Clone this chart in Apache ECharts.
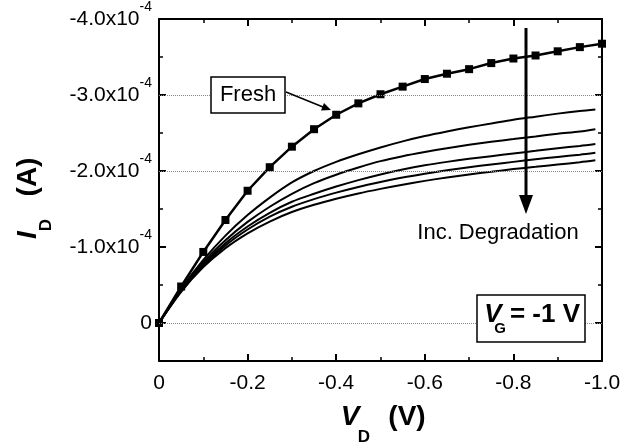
<!DOCTYPE html>
<html>
<head>
<meta charset="utf-8">
<script src="https://cdn.jsdelivr.net/npm/echarts@6/dist/echarts.min.js"></script>
<style>
html, body { margin: 0; background: #fff; }
#main { width: 639px; height: 445px; }
</style>
</head>
<body>
<div id="main"></div>
<script>
// drain voltage (V) and drain current in units of 1e-4 A
var vd = [0, -0.05, -0.1, -0.15, -0.2, -0.25, -0.3, -0.35, -0.4, -0.45, -0.5,
          -0.55, -0.6, -0.65, -0.7, -0.75, -0.8, -0.85, -0.9, -0.95, -1.0];
var vdDeg = [0, -0.05, -0.1, -0.15, -0.2, -0.25, -0.3, -0.35, -0.4, -0.45, -0.5,
             -0.55, -0.6, -0.65, -0.7, -0.75, -0.8, -0.85, -0.9, -0.95, -0.985];
var fresh = [0, -0.48, -0.935, -1.355, -1.74, -2.05, -2.32, -2.55, -2.74, -2.89, -3.01,
             -3.11, -3.21, -3.28, -3.34, -3.42, -3.48, -3.52, -3.575, -3.63, -3.675];
var deg1 = [0, -0.45, -0.83, -1.15, -1.42, -1.65, -1.85, -2.00, -2.12, -2.22, -2.31,
            -2.39, -2.46, -2.52, -2.575, -2.625, -2.675, -2.715, -2.755, -2.79, -2.81];
var deg2 = [0, -0.44, -0.80, -1.09, -1.33, -1.53, -1.70, -1.84, -1.95, -2.045, -2.13,
            -2.195, -2.25, -2.30, -2.345, -2.385, -2.42, -2.455, -2.49, -2.52, -2.55];
var deg3 = [0, -0.43, -0.775, -1.05, -1.27, -1.45, -1.595, -1.70, -1.795, -1.88, -1.955,
            -2.02, -2.075, -2.12, -2.16, -2.195, -2.23, -2.265, -2.30, -2.33, -2.355];
var deg4 = [0, -0.42, -0.755, -1.02, -1.23, -1.40, -1.53, -1.63, -1.715, -1.79, -1.855,
            -1.915, -1.965, -2.01, -2.05, -2.085, -2.12, -2.155, -2.185, -2.215, -2.24];
var deg5 = [0, -0.41, -0.735, -0.985, -1.18, -1.335, -1.46, -1.555, -1.635, -1.705, -1.765,
            -1.82, -1.87, -1.915, -1.955, -1.99, -2.025, -2.055, -2.085, -2.115, -2.14];
var gridLines = [-3, -2, 0];
var yExponent = '-4';

var FONT = 'Liberation Sans, Arial, sans-serif';

function pairs(xs, ys) {
    return xs.map(function (x, i) { return [x, ys[i]]; });
}

var degraded = [deg1, deg2, deg3, deg4, deg5];

var axisLine = { show: true, onZero: false, lineStyle: { color: '#000', width: 2 } };
var axisTick = { show: true, inside: true, length: 7, lineStyle: { color: '#000', width: 2 } };
var minorTick = { show: true, splitNumber: 2, length: 4, lineStyle: { color: '#000', width: 1.5 } };

function xAx(pos, labels) {
    return {
        type: 'value', position: pos, min: -1, max: 0, interval: 0.2, inverse: true,
        axisLine: axisLine, axisTick: axisTick, minorTick: minorTick,
        splitLine: { show: false },
        axisLabel: {
            show: labels, color: '#000', fontSize: 21, fontFamily: FONT, margin: 12,
            formatter: function (v) { return v === 0 ? '0' : v.toFixed(1); }
        }
    };
}

function yAx(pos, labels) {
    return {
        type: 'value', position: pos, min: -4, max: 0.5, interval: 1, inverse: true,
        axisLine: axisLine, axisTick: axisTick, minorTick: minorTick,
        splitLine: { show: false },
        axisLabel: {
            show: labels, color: '#000', fontFamily: FONT, margin: 7,
            formatter: function (v) {
                if (v === 0) return '{m|0}';
                if (Math.round(v) !== v) return '';
                return '{m|' + v.toFixed(1) + 'x10}{s|' + yExponent + '}';
            },
            rich: {
                m: { fontSize: 21, lineHeight: 22, verticalAlign: 'bottom', fontFamily: FONT, color: '#000' },
                s: { fontSize: 14, lineHeight: 14, padding: [0, 0, 16, 0], verticalAlign: 'bottom', fontFamily: FONT, color: '#000' }
            }
        }
    };
}

var series = [{
    type: 'line', data: [], symbol: 'none',
    markLine: {
        silent: true, symbol: 'none', label: { show: false },
        lineStyle: { type: 'dotted', color: '#888', width: 1 },
        data: gridLines.map(function (g) { return { yAxis: g }; })
    }
}];
degraded.forEach(function (d) {
    series.push({
        type: 'line', data: pairs(vdDeg, d), symbol: 'none', smooth: 0.3,
        lineStyle: { color: '#000', width: 2 }
    });
});
series.push({
    name: 'Fresh', type: 'line', data: pairs(vd, fresh),
    symbol: 'rect', symbolSize: 8,
    itemStyle: { color: '#000' },
    lineStyle: { color: '#000', width: 2.5 }
});

function txt(x, y, s, size, extra) {
    var st = { text: s, fill: '#000', font: (extra || '') + ' ' + size + 'px ' + FONT, align: 'center', verticalAlign: 'middle' };
    return { type: 'text', x: x, y: y, z: 100, style: st };
}

var graphics = [
    // Fresh label and arrow
    { type: 'rect', z: 100, shape: { x: 211, y: 77, width: 74, height: 36 }, style: { fill: '#fff', stroke: '#000', lineWidth: 1.5 } },
    txt(248, 95, 'Fresh', 22, ''),
    { type: 'line', z: 100, shape: { x1: 286, y1: 92, x2: 323, y2: 107 }, style: { stroke: '#000', lineWidth: 1.5 } },
    { type: 'polygon', z: 100, shape: { points: [[321, 110.5], [324, 103], [331, 110]] }, style: { fill: '#000' } },
    // degradation arrow
    { type: 'line', z: 100, shape: { x1: 526, y1: 28, x2: 526, y2: 198 }, style: { stroke: '#000', lineWidth: 3 } },
    { type: 'polygon', z: 100, shape: { points: [[519, 195], [533, 195], [526, 214]] }, style: { fill: '#000' } },
    txt(498, 233, 'Inc. Degradation', 22, ''),
    // V_G box
    { type: 'rect', z: 100, shape: { x: 477, y: 295, width: 108, height: 47 }, style: { fill: '#fff', stroke: '#000', lineWidth: 1.5 } },
    txt(493, 315, 'V', 26, 'italic bold'),
    txt(500, 329, 'G', 15, 'bold'),
    txt(545, 315, '= -1 V', 26, 'bold'),
    // x axis name
    txt(350, 417, 'V', 28, 'italic bold'),
    txt(364, 437, 'D', 17, 'bold'),
    txt(407, 417, '(V)', 28, 'bold'),
    // y axis name (rotated)
    {
        type: 'group', x: 28, y: 201, rotation: Math.PI / 2, z: 100,
        children: [
            txt(-34, 0, 'I', 28, 'italic bold'),
            txt(-24, 18, 'D', 17, 'bold'),
            txt(24, 0, '(A)', 28, 'bold')
        ]
    }
];

var myChart = echarts.init(document.getElementById('main'));
var option = {
    backgroundColor: '#fff',
    animation: false,
    grid: { left: 159, right: 37, top: 16, bottom: 84 },
    xAxis: [xAx('bottom', true), xAx('top', false)],
    yAxis: [yAx('left', true), yAx('right', false)],
    series: series,
    graphic: graphics
};
myChart.setOption(option);
</script>
</body>
</html>
